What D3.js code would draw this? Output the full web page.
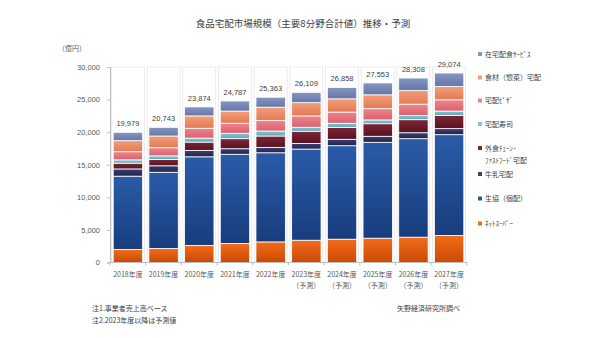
<!DOCTYPE html>
<html>
<head>
<meta charset="utf-8">
<script src="https://cdn.jsdelivr.net/npm/d3@7.9.0/dist/d3.min.js"></script>
<style>
  html, body { margin: 0; padding: 0; background: #fff; }
  svg { display: block; font-family: "Noto Sans CJK JP", "Noto Sans", sans-serif; }
</style>
</head>
<body>
<svg id="chart" width="600" height="338"></svg>
<script>
const years = ['2018年度', '2019年度', '2020年度', '2021年度', '2022年度',
  '2023年度', '2024年度', '2025年度', '2026年度', '2027年度'];
const forecast = [false, false, false, false, false, true, true, true, true, true];
const totals = [19979, 20743, 23874, 24787, 25363, 26109, 26858, 27553, 28308, 29074];

// series, bottom to top (億円)
const netSuper = [2000, 2150, 2620, 2900, 3160, 3420, 3575, 3730, 3885, 4130];
const coop = [11250, 11700, 13600, 13710, 13680, 13990, 14345, 14715, 15115, 15485];
const milk = [1110, 990, 990, 850, 830, 865, 985, 925, 910, 925];
const fastFood = [880, 955, 1265, 1540, 1740, 1865, 1820, 1925, 2005, 2035];
const sushi = [510, 570, 615, 830, 770, 615, 645, 585, 630, 665];
const pizza = [1250, 1250, 1510, 1540, 1590, 1740, 1710, 1725, 1755, 1725];
const ingredients = [1695, 1800, 1895, 1865, 2065, 2035, 2035, 2125, 2095, 2050];
const mealService = [1284, 1328, 1379, 1552, 1528, 1579, 1743, 1823, 1913, 2059];

const seriesKeys = ['netSuper', 'coop', 'milk', 'fastFood', 'sushi', 'pizza', 'ingredients', 'mealService'];
const seriesLabels = [['ﾈｯﾄｽｰﾊﾟｰ'], ['生協（個配）'], ['牛乳宅配'], ['外食ﾁｪｰﾝ･', 'ﾌｧｽﾄﾌｰﾄﾞ宅配'],
  ['宅配寿司'], ['宅配ﾋﾟｻﾞ'], ['食材（惣菜）宅配'], ['在宅配食ｻｰﾋﾞｽ']];
const yTicks = [0, 5000, 10000, 15000, 20000, 25000, 30000];

const seriesValues = [netSuper, coop, milk, fastFood, sushi, pizza, ingredients, mealService];
const colors = [
  ['#f26b18', '#c94a06'],
  ['#2a5ba8', '#183d7e'],
  ['#3a3f76', '#20244c'],
  ['#7e2638', '#561220'],
  ['#86c6d4', '#5ea8ba'],
  ['#ee848c', '#d9626e'],
  ['#f49e78', '#e17a54'],
  ['#8596c2', '#6577a6']
];

const rows = years.map((y, i) => {
  const r = { year: y };
  seriesKeys.forEach((k, j) => { r[k] = seriesValues[j][i]; });
  return r;
});

const svg = d3.select('#chart');
const x = d3.scaleBand().domain(years).range([110, 467]).paddingInner(0.177).paddingOuter(0.09);
const y = d3.scaleLinear().domain([0, 30000]).range([262.5, 67]);

// gradients
const defs = svg.append('defs');
seriesKeys.forEach((k, j) => {
  const g = defs.append('linearGradient').attr('id', 'g-' + k)
    .attr('x1', 0).attr('y1', 0).attr('x2', 0).attr('y2', 1);
  g.append('stop').attr('offset', '0%').attr('stop-color', colors[j][0]);
  g.append('stop').attr('offset', '100%').attr('stop-color', colors[j][1]);
});

// title
svg.append('text').attr('x', 303).attr('y', 26.5).attr('text-anchor', 'middle')
  .attr('font-size', 9.5).attr('fill', '#404040')
  .text('食品宅配市場規模（主要8分野合計値）推移・予測');

svg.append('text').attr('x', 72).attr('y', 51).attr('text-anchor', 'middle')
  .attr('font-size', 7).attr('fill', '#595959').text('（億円）');

// light column outlines
svg.append('g').selectAll('rect').data(years).join('rect')
  .attr('x', d => x(d) - 1.8).attr('y', y(30000))
  .attr('width', x.bandwidth() + 3.6).attr('height', y(0) - y(30000))
  .attr('fill', 'none').attr('stroke', '#e6e6e6').attr('stroke-width', 0.8);

// y axis
const yAxis = svg.append('g').attr('transform', 'translate(110,0)')
  .call(d3.axisLeft(y).tickValues(yTicks).tickSize(3).tickPadding(7).tickFormat(d3.format(',')));
yAxis.select('.domain').attr('stroke', '#bfbfbf');
yAxis.selectAll('.tick line').attr('stroke', '#bfbfbf');
yAxis.selectAll('.tick text').attr('font-size', 7.5).attr('fill', '#595959')
  .attr('font-family', '"Liberation Sans", Arial, sans-serif');

// stacked bars
const stack = d3.stack().keys(seriesKeys)(rows);
svg.append('g').selectAll('g').data(stack).join('g')
  .attr('fill', (d, j) => `url(#g-${seriesKeys[j]})`)
  .selectAll('rect').data(d => d).join('rect')
  .attr('x', d => x(d.data.year))
  .attr('y', d => y(d[1]))
  .attr('width', x.bandwidth())
  .attr('height', d => y(d[0]) - y(d[1]))
  .attr('stroke', '#ffffff').attr('stroke-width', 0.8);

// x axis baseline
const xAxis = svg.append('g').attr('transform', `translate(0,${y(0)})`);
xAxis.append('line').attr('x1', 110).attr('x2', 467).attr('stroke', '#bfbfbf');
xAxis.selectAll('.tk').data(d3.range(years.length + 1)).join('line')
  .attr('x1', i => 110 + i * x.step()).attr('x2', i => 110 + i * x.step())
  .attr('y1', 0).attr('y2', 3).attr('stroke', '#bfbfbf');

// category labels
const lab = svg.append('g').selectAll('g').data(years).join('g')
  .attr('transform', d => `translate(${x(d) + x.bandwidth() / 2},0)`);
lab.append('text').attr('y', 276.5).attr('text-anchor', 'middle')
  .attr('font-size', 7).attr('fill', '#595959').text(d => d);
lab.filter((d, i) => forecast[i]).append('text').attr('y', 288).attr('text-anchor', 'middle')
  .attr('font-size', 7).attr('fill', '#595959').text('（予測）');

// totals
svg.append('g').selectAll('text').data(years).join('text')
  .attr('x', d => x(d) + x.bandwidth() / 2)
  .attr('y', (d, i) => y(totals[i]) - 6)
  .attr('text-anchor', 'middle').attr('font-size', 7.5).attr('fill', '#404040')
  .attr('font-family', '"Liberation Sans", Arial, sans-serif')
  .text((d, i) => d3.format(',')(totals[i]));

// legend (top to bottom reverses the stack)
const legendY = [54, 77.5, 100.5, 124, 148, 174, 198.5, 223.5];
const legendOrder = d3.range(seriesKeys.length).reverse();
const leg = svg.append('g').selectAll('g').data(legendOrder).join('g')
  .attr('transform', (j, i) => `translate(478,${legendY[i]})`);
leg.append('rect').attr('x', 0).attr('y', -2).attr('width', 4).attr('height', 4)
  .attr('fill', j => colors[j][0]);
leg.each(function (j) {
  const g = d3.select(this);
  seriesLabels[j].forEach((t, k) => {
    g.append('text').attr('x', 7).attr('y', 2.5 + k * 12.5)
      .attr('font-size', 7).attr('fill', '#404040').text(t);
  });
});

// notes
const notes = svg.append('g').attr('font-size', 7).attr('fill', '#404040');
notes.append('text').attr('x', 92).attr('y', 311).text('注1.事業者売上高ベース');
notes.append('text').attr('x', 92).attr('y', 323).text('注2.2023年度以降は予測値');
notes.append('text').attr('x', 397).attr('y', 311).text('矢野経済研究所調べ');
</script>
</body>
</html>
